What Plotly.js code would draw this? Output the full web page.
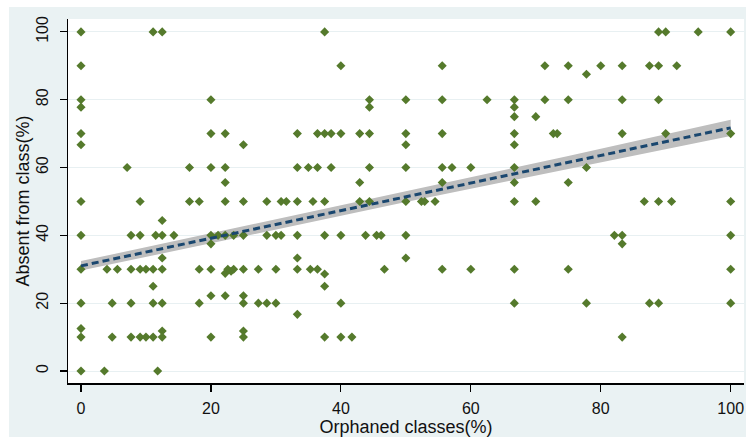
<!DOCTYPE html>
<html>
<head>
<meta charset="utf-8">
<script src="https://cdn.plot.ly/plotly-3.0.1.min.js"></script>
<style>
  html, body { margin: 0; padding: 0; background: #ffffff; }
  #chart { position: absolute; left: 9px; top: 7px; width: 737px; height: 430px; }
</style>
</head>
<body>
<div id="chart"></div>
<script>
// Observations: orphaned classes (%) vs absent from class (%), grouped by row
const orphaned = [
  // absent = 100
  0, 11.1, 12.5, 37.5, 88.9, 90, 95, 100,
  // 90
  0, 40, 55.6, 71.4, 75, 80, 83.3, 87.5, 88.9, 91.7,
  // 87.5
  77.8,
  // 80
  0, 20, 44.4, 50, 55.6, 62.5, 66.7, 71.4, 75, 83.3, 88.9,
  // 77.8
  0, 44.4, 66.7,
  // 75
  66.7, 70,
  // 70
  0, 20, 22.2, 33.3, 36.4, 37.5, 38.5, 40, 42.9, 44.4, 50, 55.6, 66.7, 72.7, 73.3, 83.3, 90, 100,
  // 66.7
  0, 25, 50, 66.7,
  // 60
  7.1, 16.7, 20, 22.2, 33.3, 35, 36.4, 38.5, 44.4, 50, 55.6, 57.1, 60, 66.7, 77.8,
  // 55.6
  22.2, 42.9, 55.6, 66.7, 75,
  // 50
  0, 9.1, 16.7, 18.2, 22.2, 25, 28.6, 30.8, 31.6, 33.3, 35.7, 37.5, 42.9, 44.4, 50, 52.4, 52.9, 54.5, 66.7, 70, 86.7, 88.9, 90.9, 100,
  // 44.4
  12.5,
  // 40
  0, 7.7, 9.1, 11.5, 12.5, 14.3, 20, 21.1, 22.2, 23.5, 25, 28.6, 30, 30.8, 33.3, 37.5, 40, 43.8, 45.5, 46.2, 50, 82.1, 83.3, 100,
  // 37.5
  20, 83.3,
  // 33.3
  12.5, 33.3, 50,
  // 30
  0, 4, 5.6, 7.7, 9.1, 10, 11.1, 12.5, 18.2, 20, 22.2, 22.6, 23.1, 23.5, 25, 27.3, 30, 33.3, 35.3, 36.4, 46.7, 55.6, 60, 66.7, 75, 100,
  // 28.6
  37.5,
  // 25
  11.1, 37.5,
  // 22.2
  20, 22.2, 25,
  // 20
  0, 4.8, 7.7, 11.1, 12.5, 18.2, 25, 27.3, 28.6, 30, 40, 66.7, 77.8, 87.5, 88.9, 100,
  // 16.7
  33.3,
  // 12.5
  0,
  // 11.8
  12.5, 25,
  // 10
  0, 4.8, 7.7, 9.1, 10, 11.1, 12.5, 20, 25, 37.5, 40, 41.7, 83.3,
  // 0
  0, 3.6, 11.8
];
const absent = [
  100, 100, 100, 100, 100, 100, 100, 100,
  90, 90, 90, 90, 90, 90, 90, 90, 90, 90,
  87.5,
  80, 80, 80, 80, 80, 80, 80, 80, 80, 80, 80,
  77.8, 77.8, 77.8,
  75, 75,
  70, 70, 70, 70, 70, 70, 70, 70, 70, 70, 70, 70, 70, 70, 70, 70, 70, 70,
  66.7, 66.7, 66.7, 66.7,
  60, 60, 60, 60, 60, 60, 60, 60, 60, 60, 60, 60, 60, 60, 60,
  55.6, 55.6, 55.6, 55.6, 55.6,
  50, 50, 50, 50, 50, 50, 50, 50, 50, 50, 50, 50, 50, 50, 50, 50, 50, 50, 50, 50, 50, 50, 50, 50,
  44.4,
  40, 40, 40, 40, 40, 40, 40, 40, 40, 40, 40, 40, 40, 40, 40, 40, 40, 40, 40, 40, 40, 40, 40, 40,
  37.5, 37.5,
  33.3, 33.3, 33.3,
  30, 30, 30, 30, 30, 30, 30, 30, 30, 30, 28.8, 30, 29.4, 30, 30, 30, 30, 30, 30, 30, 30, 30, 30, 30, 30, 30,
  28.6,
  25, 25,
  22.2, 22.2, 22.2,
  20, 20, 20, 20, 20, 20, 20, 20, 20, 20, 20, 20, 20, 20, 20, 20,
  16.7,
  12.5,
  11.8, 11.8,
  10, 10, 10, 10, 10, 10, 10, 10, 10, 10, 10, 10, 10,
  0, 0, 0
];

// Linear fit and its confidence band
const fitX = [0, 25, 50, 75, 100];
const fitY = [31.0, 41.2, 51.4, 61.5, 71.7];
const ciLow = [29.6, 39.8, 49.8, 59.6, 69.3];
const ciHigh = [32.4, 42.6, 53.0, 63.4, 74.1];

const xTicks = [0, 20, 40, 60, 80, 100];
const yTicks = [0, 20, 40, 60, 80, 100];

const font = { family: "Liberation Sans, Arial, sans-serif", color: "#111111" };

const traces = [
  { x: fitX, y: ciLow, mode: "lines", line: { width: 0, color: "#bebebe" }, hoverinfo: "skip", showlegend: false },
  { x: fitX, y: ciHigh, mode: "lines", fill: "tonexty", fillcolor: "#bebebe", line: { width: 0, color: "#bebebe" }, hoverinfo: "skip", showlegend: false },
  { x: orphaned, y: absent, mode: "markers", type: "scatter",
    marker: { symbol: "diamond", size: 7, color: "#557a2c", line: { width: 0 } }, showlegend: false },
  { x: fitX, y: fitY, mode: "lines", line: { color: "#1a476f", width: 3, dash: "7px,4px" }, showlegend: false }
];

const layout = {
  width: 737, height: 430,
  paper_bgcolor: "#eaf2f3",
  plot_bgcolor: "#ffffff",
  margin: { l: 59, r: 2, t: 12, b: 54 },
  font: font,
  showlegend: false,
  xaxis: {
    range: [-2, 102.05], tickvals: xTicks, ticktext: xTicks.map(String),
    ticks: "outside", ticklen: 7, tickwidth: 1.2, tickcolor: "#000",
    showline: true, linecolor: "#000", linewidth: 1.5, showgrid: false, zeroline: false,
    tickfont: { size: 16, family: font.family, color: "#111" }, ticklabelstandoff: 3,
    title: { text: "Orphaned classes(%)", font: { size: 18, family: font.family, color: "#111" }, standoff: 0 }
  },
  yaxis: {
    range: [-3.54, 103.8], tickvals: yTicks, ticktext: yTicks.map(String), tickangle: -90,
    ticks: "outside", ticklen: 7, tickwidth: 1.2, tickcolor: "#000",
    showline: true, linecolor: "#000", linewidth: 1.5, showgrid: true, gridcolor: "#e8f0f2", gridwidth: 1, zeroline: false,
    tickfont: { size: 16, family: font.family, color: "#111" }, ticklabelstandoff: 5,
    title: { text: "Absent from class(%)", font: { size: 18, family: font.family, color: "#111" }, standoff: 0 }
  }
};

Plotly.newPlot("chart", traces, layout, { staticPlot: true, displayModeBar: false });
</script>
</body>
</html>
